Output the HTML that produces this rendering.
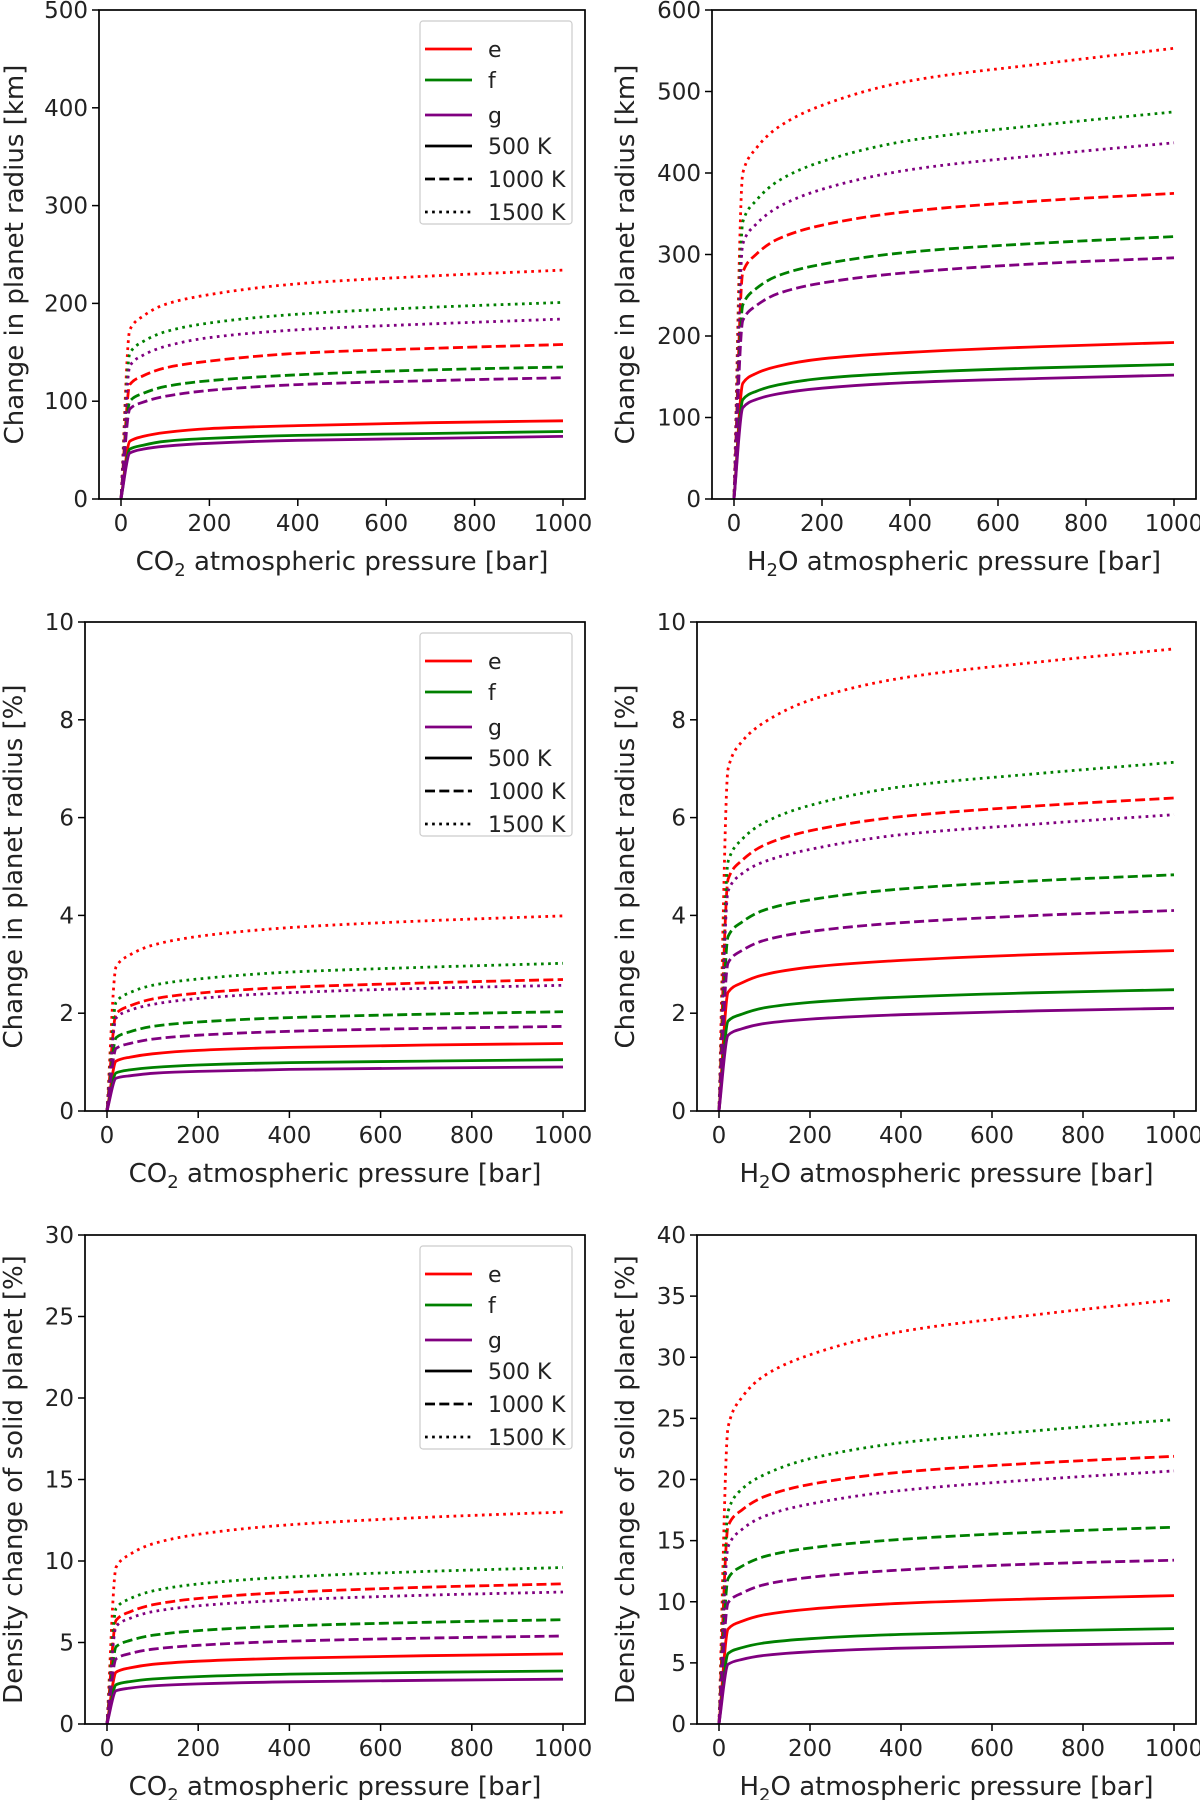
<!DOCTYPE html>
<html><head><meta charset="utf-8">
<style>
html,body{margin:0;padding:0;background:#fff;}
svg{display:block;font-family:"DejaVu Sans","Liberation Sans",sans-serif;}
</style></head>
<body>
<svg id="fig" width="1200" height="1800" viewBox="0 0 1200 1800" xmlns="http://www.w3.org/2000/svg"></svg>
<script>
const pressures = [0, 20, 50, 100, 200, 400, 700, 1000];
const xTicks = [0, 200, 400, 600, 800, 1000];
const planets = ['e', 'f', 'g'];
const temps = ['500 K', '1000 K', '1500 K'];

// Panel 1: CO2, radius km
const p1_e500 = [0,59,64,68,72,75,78,80];
const p1_e1000 = [0,117,126,134,141,149,154,158];
const p1_e1500 = [0,173,187,199,209,220,228,234];
const p1_f500 = [0,51,55,59,62,65,67,69];
const p1_f1000 = [0,100,108,115,121,127,132,135];
const p1_f1500 = [0,149,161,171,180,189,196,201];
const p1_g500 = [0,47,51,54,57,60,62,64];
const p1_g1000 = [0,92,99,105,111,117,121,124];
const p1_g1500 = [0,136,147,156,165,173,179,184];
// Panel 2: H2O, radius km
const p2_e500 = [0,142,154,163,172,180,187,192];
const p2_e1000 = [0,278,300,319,336,353,366,375];
const p2_e1500 = [0,400,430,456,483,513,534,553];
const p2_f500 = [0,122,132,140,148,155,161,165];
const p2_f1000 = [0,238,258,274,288,303,314,322];
const p2_f1500 = [0,340,366,390,414,440,459,475];
const p2_g500 = [0,112,122,129,136,143,148,152];
const p2_g1000 = [0,219,237,252,265,278,289,296];
const p2_g1500 = [0,313,337,358,380,404,422,437];
// Panel 3: CO2, radius %
const p3_e500 = [0,1.02,1.10,1.17,1.24,1.30,1.35,1.38];
const p3_e1000 = [0,1.99,2.15,2.29,2.41,2.53,2.62,2.69];
const p3_e1500 = [0,2.95,3.19,3.39,3.57,3.75,3.89,3.99];
const p3_f500 = [0,0.78,0.84,0.89,0.94,0.99,1.02,1.05];
const p3_f1000 = [0,1.50,1.62,1.73,1.82,1.91,1.98,2.03];
const p3_f1500 = [0,2.23,2.42,2.57,2.70,2.84,2.94,3.02];
const p3_g500 = [0,0.67,0.72,0.77,0.81,0.85,0.88,0.90];
const p3_g1000 = [0,1.28,1.38,1.47,1.55,1.63,1.69,1.73];
const p3_g1500 = [0,1.90,2.06,2.18,2.30,2.42,2.51,2.57];
// Panel 4: H2O, radius %
const p4_e500 = [0,2.43,2.62,2.79,2.94,3.08,3.20,3.28];
const p4_e1000 = [0,4.74,5.12,5.44,5.73,6.02,6.24,6.40];
const p4_e1500 = [0,7.0,7.55,7.95,8.4,8.85,9.18,9.45];
const p4_f500 = [0,1.84,1.98,2.11,2.22,2.33,2.42,2.48];
const p4_f1000 = [0,3.57,3.86,4.11,4.32,4.54,4.71,4.83];
const p4_f1500 = [0,5.1,5.55,5.9,6.25,6.63,6.9,7.13];
const p4_g500 = [0,1.55,1.68,1.79,1.88,1.97,2.05,2.10];
const p4_g1000 = [0,3.03,3.28,3.49,3.67,3.85,4.00,4.10];
const p4_g1500 = [0,4.5,4.85,5.1,5.35,5.65,5.87,6.06];
// Panel 5: CO2, density %
const p5_e500 = [0,3.18,3.44,3.66,3.85,4.04,4.19,4.30];
const p5_e1000 = [0,6.36,6.88,7.31,7.70,8.08,8.39,8.60];
const p5_e1500 = [0,9.62,10.4,11.05,11.64,12.22,12.68,13.0];
const p5_f500 = [0,2.41,2.60,2.76,2.91,3.06,3.17,3.25];
const p5_f1000 = [0,4.74,5.12,5.44,5.73,6.02,6.24,6.40];
const p5_f1500 = [0,7.10,7.68,8.16,8.59,9.02,9.36,9.60];
const p5_g500 = [0,2.04,2.20,2.34,2.46,2.59,2.68,2.75];
const p5_g1000 = [0,4.00,4.32,4.59,4.83,5.08,5.27,5.40];
const p5_g1500 = [0,5.99,6.48,6.89,7.25,7.61,7.90,8.10];
// Panel 6: H2O, density %
const p6_e500 = [0,7.77,8.4,8.93,9.40,9.87,10.24,10.5];
const p6_e1000 = [0,16.2,17.5,18.6,19.6,20.6,21.35,21.9];
const p6_e1500 = [0,24.3,26.7,28.5,30.2,32.1,33.5,34.7];
const p6_f500 = [0,5.77,6.24,6.63,6.98,7.33,7.61,7.8];
const p6_f1000 = [0,11.9,12.9,13.7,14.4,15.1,15.7,16.1];
const p6_f1500 = [0,17.4,19.2,20.4,21.7,23.0,24.0,24.9];
const p6_g500 = [0,4.88,5.28,5.61,5.91,6.20,6.44,6.6];
const p6_g1000 = [0,9.92,10.7,11.4,12.0,12.6,13.1,13.4];
const p6_g1500 = [0,14.5,15.9,17.0,18.0,19.1,20.0,20.7];

const yTicks1 = [0,100,200,300,400,500];
const yTicks2 = [0,100,200,300,400,500,600];
const yTicks3 = [0,2,4,6,8,10];
const yTicks5 = [0,5,10,15,20,25,30];
const yTicks6 = [0,5,10,15,20,25,30,35,40];

const NS = 'http://www.w3.org/2000/svg';
const svg = document.getElementById('fig');
const colors = {e:'#ff0000', f:'#008000', g:'#800080'};
const dashes = {'500 K':'', '1000 K':'10,4.3', '1500 K':'2.7,4.4'};
const LW = 2.8;

function mk(tag, attrs, parent){
  const el = document.createElementNS(NS, tag);
  for (const k in attrs) el.setAttribute(k, attrs[k]);
  (parent||svg).appendChild(el);
  return el;
}

// monotone cubic (Fritsch-Carlson) path through points
function monoPath(xs, ys){
  const n = xs.length, d = [], m = [];
  for (let i=0;i<n-1;i++) d.push((ys[i+1]-ys[i])/(xs[i+1]-xs[i]));
  m[0]=d[0]; m[n-1]=d[n-2];
  for (let i=1;i<n-1;i++){
    if (d[i-1]*d[i] <= 0) m[i]=0;
    else { const w1=2*(xs[i+1]-xs[i])+(xs[i]-xs[i-1]), w2=(xs[i+1]-xs[i])+2*(xs[i]-xs[i-1]);
      m[i]=(w1+w2)/(w1/d[i-1]+w2/d[i]); }
  }
  let p = 'M'+xs[0].toFixed(1)+','+ys[0].toFixed(1);
  for (let i=0;i<n-1;i++){
    const h = xs[i+1]-xs[i];
    p += ' C'+(xs[i]+h/3).toFixed(1)+','+(ys[i]+m[i]*h/3).toFixed(1)+' '+
         (xs[i+1]-h/3).toFixed(1)+','+(ys[i+1]-m[i+1]*h/3).toFixed(1)+' '+
         xs[i+1].toFixed(1)+','+ys[i+1].toFixed(1);
  }
  return p;
}

const panels = [
  {id:'p1', left:99, top:10, ymax:500, yt:yTicks1, gas:'CO', ylab:'Change in planet radius [km]', ylx:14, legend:true,
   s:{e:[p1_e500,p1_e1000,p1_e1500], f:[p1_f500,p1_f1000,p1_f1500], g:[p1_g500,p1_g1000,p1_g1500]}},
  {id:'p2', left:712, top:10, ymax:600, yt:yTicks2, gas:'H', ylab:'Change in planet radius [km]', ylx:625, legend:false,
   s:{e:[p2_e500,p2_e1000,p2_e1500], f:[p2_f500,p2_f1000,p2_f1500], g:[p2_g500,p2_g1000,p2_g1500]}},
  {id:'p3', left:85, top:622, ymax:10, yt:yTicks3, gas:'CO', ylab:'Change in planet radius [%]', ylx:13, legend:true,
   s:{e:[p3_e500,p3_e1000,p3_e1500], f:[p3_f500,p3_f1000,p3_f1500], g:[p3_g500,p3_g1000,p3_g1500]}},
  {id:'p4', left:697, top:622, ymax:10, yt:yTicks3, gas:'H', ylab:'Change in planet radius [%]', ylx:625, legend:false,
   s:{e:[p4_e500,p4_e1000,p4_e1500], f:[p4_f500,p4_f1000,p4_f1500], g:[p4_g500,p4_g1000,p4_g1500]}},
  {id:'p5', left:85, top:1235, ymax:30, yt:yTicks5, gas:'CO', ylab:'Density change of solid planet [%]', ylx:13, legend:true,
   s:{e:[p5_e500,p5_e1000,p5_e1500], f:[p5_f500,p5_f1000,p5_f1500], g:[p5_g500,p5_g1000,p5_g1500]}},
  {id:'p6', left:697, top:1235, ymax:40, yt:yTicks6, gas:'H', ylab:'Density change of solid planet [%]', ylx:625, legend:false,
   s:{e:[p6_e500,p6_e1000,p6_e1500], f:[p6_f500,p6_f1000,p6_f1500], g:[p6_g500,p6_g1000,p6_g1500]}}
];

panels.forEach(P => {
  const H = 489;
  const right = (P.left < 600) ? 585 : 1196;
  const width = right - P.left;
  const xs = v => P.left + 22 + v / 1000 * (width - 44);
  const ys = v => P.top + H - v / P.ymax * H;
  const g = mk('g', {});
  
  

  planets.forEach(pl => {
    P.s[pl].forEach((arr, ti) => {
      const d = monoPath(pressures.map(xs), arr.map(ys));
      const line = mk('path', {d: d, fill:'none', stroke: colors[pl], 'stroke-width': LW,
        'stroke-dasharray': dashes[temps[ti]] || 'none', 'stroke-linejoin':'round'}, g);
      
      
    });
  });

  const fr = mk('rect', {x:P.left, y:P.top, width:width, height:H, fill:'none', stroke:'#000', 'stroke-width':1.7}, g);
  
  

  xTicks.forEach(t => {
    const x = xs(t);
    mk('line', {x1:x, x2:x, y1:P.top+H, y2:P.top+H+7, stroke:'#000', 'stroke-width':1.5}, g);
    const tl = mk('text', {x:x, y:P.top+H+32, 'text-anchor':'middle', 'font-size':23, fill:'#222'}, g);
    tl.textContent = t;
    
    
  });
  P.yt.forEach(t => {
    const y = ys(t);
    mk('line', {x1:P.left-7, x2:P.left, y1:y, y2:y, stroke:'#000', 'stroke-width':1.5}, g);
    const tl = mk('text', {x:P.left-11, y:y+8, 'text-anchor':'end', 'font-size':23, fill:'#222'}, g);
    tl.textContent = t;
    
    
  });

  const xl = mk('text', {x:P.left + width/2, y:P.top+H+71, 'text-anchor':'middle', 'font-size':26, fill:'#222'}, g);
  
  
  if (P.gas === 'CO') {
    xl.innerHTML = 'CO<tspan font-size="18" dy="6">2</tspan><tspan dy="-6"> atmospheric pressure [bar]</tspan>';
  } else {
    xl.innerHTML = 'H<tspan font-size="18" dy="6">2</tspan><tspan dy="-6">O atmospheric pressure [bar]</tspan>';
  }
  const cy = P.top + H/2;
  const yl = mk('text', {x:P.ylx+9, y:cy, 'text-anchor':'middle', 'font-size':26, fill:'#222',
    transform:'rotate(-90 ' + (P.ylx+9) + ' ' + cy + ')'}, g);
  yl.textContent = P.ylab;
  
  

  if (P.legend) {
    const lg = mk('g', {}, g);
    
    
    const bx = 420, by = P.top + 11;
    mk('rect', {x:bx, y:by, width:152, height:203, rx:3, fill:'#fff', 'fill-opacity':0.8, stroke:'#ccc', 'stroke-width':1.2}, lg);
    const entries = [['e', colors.e, ''], ['f', colors.f, ''], ['g', colors.g, ''],
      ['500 K', '#000', ''], ['1000 K', '#000', dashes['1000 K']], ['1500 K', '#000', dashes['1500 K']]];
    const rowY = [28, 59, 94, 125, 158, 191];
    entries.forEach((en, i) => {
      const y = by + rowY[i];
      const ln = mk('line', {x1:425, x2:472, y1:y, y2:y, stroke:en[1], 'stroke-width':LW, 'stroke-dasharray':en[2]||'none'}, lg);
      
      
      const tx = mk('text', {x:488, y:y+8, 'font-size':22, fill:'#222'}, lg);
      tx.textContent = en[0];
      
      
    });
  }
});
</script>
</body></html>
